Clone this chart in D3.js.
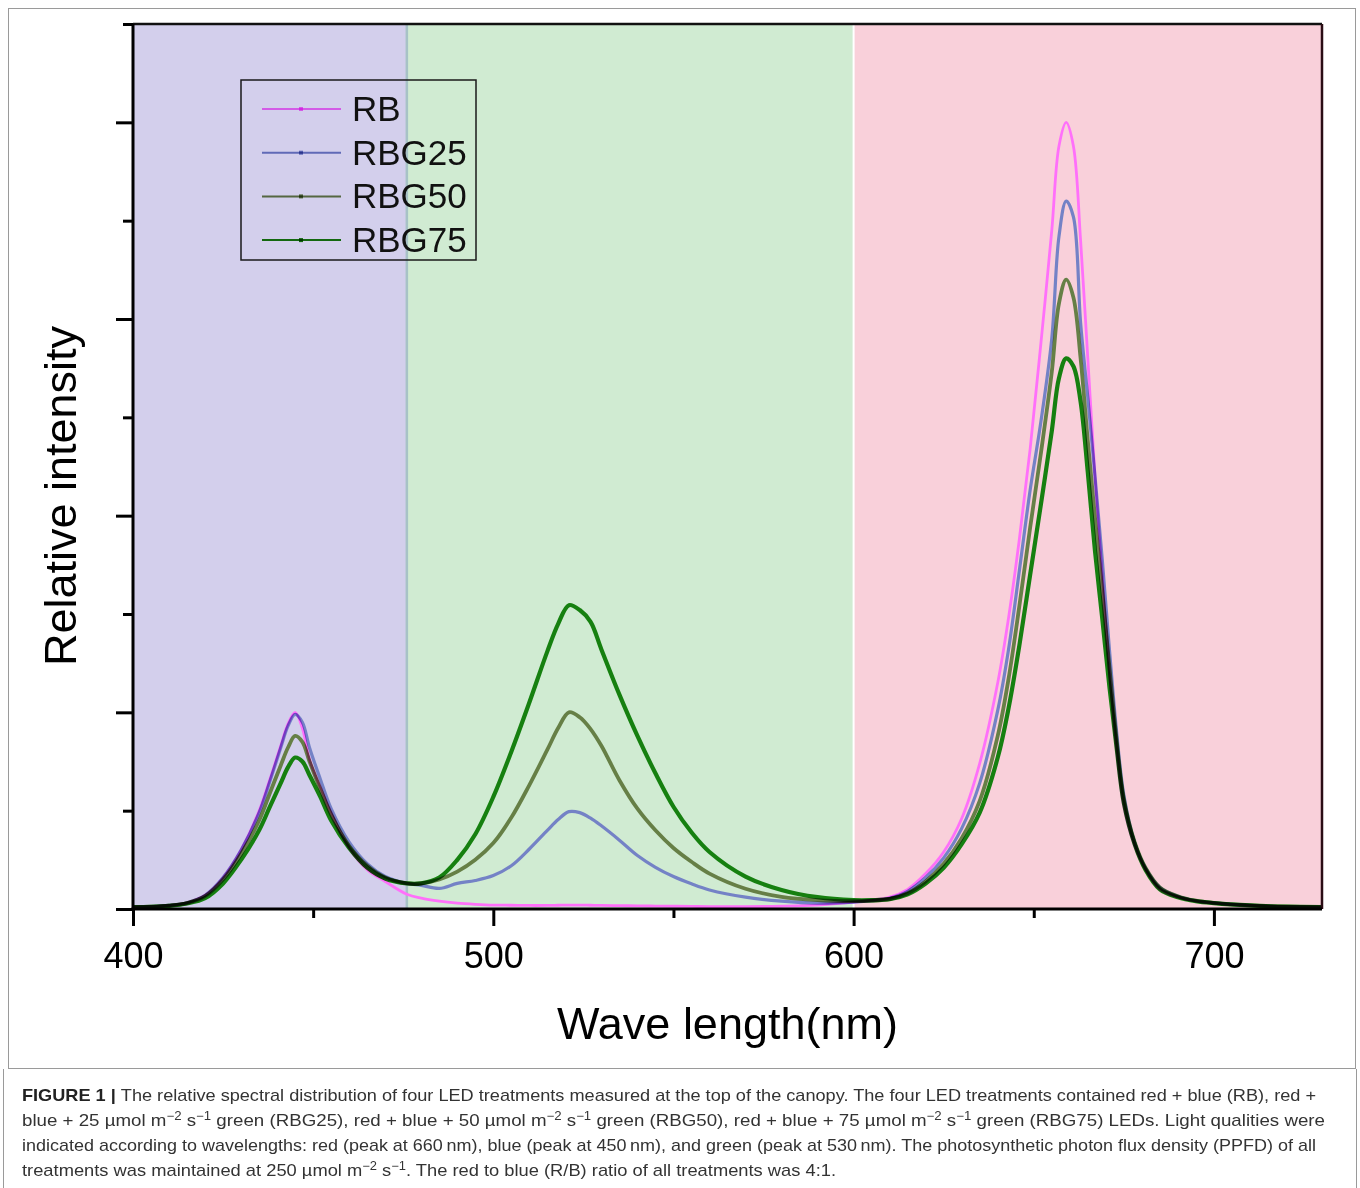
<!DOCTYPE html>
<html>
<head>
<meta charset="utf-8">
<script src="https://cdn.jsdelivr.net/npm/d3@7"></script>
<style>
  body { margin: 0; background: #fff; }
  svg { display: block; font-family: "Liberation Sans", Arial, sans-serif; }
  .series { fill: none; mix-blend-mode: multiply; stroke-linejoin: round; }
  .tick line { stroke: #000; stroke-width: 3; }
  .tick text { font-size: 36px; fill: #000; }
</style>
</head>
<body>
<svg id="chart"></svg>
<script>
// wavelengths (nm) shared by every series
const wavelengths = [
  400, 405, 410, 415, 420, 425, 430, 435, 438, 441, 443, 445, 447, 449, 452, 455, 460, 465, 470, 476,
  480, 485, 490, 495, 500, 505, 510, 515, 518, 521, 524, 527, 530, 535, 540, 545, 550, 555, 560, 570, 580, 590,
  600, 605, 610, 615, 620, 625, 630, 635, 640, 643, 646, 649, 652, 655, 657, 659, 661, 663, 665, 667, 669, 671,
  673, 675, 678, 681, 685, 690, 695, 700, 710, 720, 730
];

const rbValues = [
  0.010, 0.012, 0.018, 0.032, 0.070, 0.160, 0.300, 0.500, 0.660, 0.830, 0.940, 1.000, 0.920, 0.760, 0.620, 0.490, 0.310, 0.200, 0.140, 0.075,
  0.055, 0.040, 0.030, 0.024, 0.020, 0.019, 0.018, 0.018, 0.019, 0.020, 0.020, 0.019, 0.018, 0.017, 0.016, 0.015, 0.014, 0.013, 0.012, 0.012, 0.014, 0.020,
  0.035, 0.045, 0.060, 0.100, 0.180, 0.290, 0.460, 0.740, 1.150, 1.480, 1.880, 2.340, 2.880, 3.450, 3.880, 4.000, 3.880, 3.400, 2.800, 2.200, 1.700, 1.200,
  0.800, 0.520, 0.320, 0.200, 0.100, 0.060, 0.040, 0.030, 0.018, 0.012, 0.010
];

const rbg25Values = [
  0.010, 0.012, 0.018, 0.032, 0.070, 0.160, 0.300, 0.490, 0.650, 0.820, 0.930, 0.990, 0.950, 0.820, 0.660, 0.510, 0.340, 0.230, 0.165, 0.130,
  0.120, 0.105, 0.130, 0.145, 0.170, 0.220, 0.305, 0.400, 0.455, 0.495, 0.490, 0.462, 0.423, 0.350, 0.272, 0.212, 0.165, 0.128, 0.097, 0.060, 0.040, 0.030,
  0.035, 0.042, 0.055, 0.090, 0.160, 0.260, 0.410, 0.640, 1.010, 1.320, 1.720, 2.130, 2.480, 2.900, 3.420, 3.600, 3.520, 2.980, 2.600, 2.200, 1.780, 1.320,
  0.900, 0.580, 0.340, 0.210, 0.110, 0.065, 0.042, 0.031, 0.018, 0.012, 0.010
];

const rbg50Values = [
  0.010, 0.012, 0.017, 0.030, 0.065, 0.150, 0.280, 0.450, 0.590, 0.730, 0.820, 0.880, 0.850, 0.750, 0.610, 0.480, 0.320, 0.220, 0.160, 0.130,
  0.130, 0.150, 0.190, 0.250, 0.335, 0.465, 0.630, 0.810, 0.920, 1.000, 0.975, 0.915, 0.830, 0.655, 0.510, 0.400, 0.310, 0.240, 0.180, 0.103, 0.062, 0.045,
  0.040, 0.042, 0.050, 0.080, 0.140, 0.230, 0.360, 0.550, 0.880, 1.170, 1.540, 1.940, 2.320, 2.730, 3.080, 3.200, 3.110, 2.800, 2.380, 1.990, 1.620, 1.230,
  0.860, 0.560, 0.340, 0.210, 0.110, 0.065, 0.042, 0.031, 0.018, 0.012, 0.010
];

const rbg75Values = [
  0.010, 0.011, 0.016, 0.028, 0.055, 0.130, 0.250, 0.400, 0.520, 0.640, 0.720, 0.770, 0.750, 0.680, 0.570, 0.450, 0.310, 0.210, 0.155, 0.130,
  0.130, 0.160, 0.250, 0.380, 0.570, 0.800, 1.050, 1.310, 1.450, 1.545, 1.520, 1.460, 1.320, 1.090, 0.880, 0.690, 0.520, 0.390, 0.290, 0.165, 0.097, 0.060,
  0.045, 0.045, 0.050, 0.075, 0.130, 0.210, 0.330, 0.490, 0.770, 1.020, 1.340, 1.700, 2.060, 2.430, 2.700, 2.800, 2.760, 2.580, 2.220, 1.820, 1.480, 1.130,
  0.820, 0.540, 0.330, 0.200, 0.100, 0.060, 0.040, 0.030, 0.018, 0.012, 0.010
];

const seriesNames = ['RB', 'RBG25', 'RBG50', 'RBG75'];
const seriesColors = ['#ff70fa', '#7482c6', '#667f46', '#168010'];
const seriesWidths = [2.8, 3.2, 3.8, 4.2];

// light quality bands: blue, green, red
const bandEdges = [400, 476, 600, 730];
const bandColors = ['#d3cfec', '#d0ebd2', '#f9d0da'];

const xMajorTicks = [400, 500, 600, 700];
const xMinorTicks = [450, 550, 650];
const yMajorTicks = [0, 1, 2, 3, 4];
const yMinorTicks = [0.5, 1.5, 2.5, 3.5, 4.5];

const captionLines = [
  'The relative spectral distribution of four LED treatments measured at the top of the canopy. The four LED treatments contained red + blue (RB), red +',
  'blue + 25 \u00b5mol m^\u22122 s^\u22121 green (RBG25), red + blue + 50 \u00b5mol m^\u22122 s^\u22121 green (RBG50), red + blue + 75 \u00b5mol m^\u22122 s^\u22121 green (RBG75) LEDs. Light qualities were',
  'indicated according to wavelengths: red (peak at 660\u2009nm), blue (peak at 450\u2009nm), and green (peak at 530\u2009nm). The photosynthetic photon flux density (PPFD) of all',
  'treatments was maintained at 250 \u00b5mol m^\u22122 s^\u22121. The red to blue (R/B) ratio of all treatments was 4:1.'
];

class SpectrumChart {

  constructor(_config) {
    this.config = {
      parentElement: _config.parentElement,
      containerWidth: _config.containerWidth || 1360,
      containerHeight: _config.containerHeight || 1188,
      margin: _config.margin || {top: 24, right: 38, bottom: 279, left: 133}
    };
    this.initVis();
  }

  initVis() {
    let vis = this;

    vis.width = vis.config.containerWidth - vis.config.margin.left - vis.config.margin.right;
    vis.height = vis.config.containerHeight - vis.config.margin.top - vis.config.margin.bottom;

    vis.xScale = d3.scaleLinear()
        .domain([400, 730])
        .range([0, vis.width]);

    vis.yScale = d3.scaleLinear()
        .domain([0, 4.5])
        .range([vis.height, 0]);

    vis.svg = d3.select(vis.config.parentElement)
        .attr('width', vis.config.containerWidth)
        .attr('height', vis.config.containerHeight);

    // outer figure frame + caption box sides
    vis.svg.append('rect')
        .attr('x', 8.5).attr('y', 8.5)
        .attr('width', 1347).attr('height', 1060)
        .attr('fill', 'none')
        .attr('stroke', '#9a9a9a');
    vis.svg.append('path')
        .attr('d', 'M3.5,1069V1188M1356.5,1069V1188')
        .attr('stroke', '#9a9a9a')
        .attr('fill', 'none');

    vis.chart = vis.svg.append('g')
        .attr('transform', `translate(${vis.config.margin.left},${vis.config.margin.top})`);

    vis.chart.append('clipPath')
        .attr('id', 'plot-clip')
      .append('rect')
        .attr('width', vis.width)
        .attr('height', vis.height);

    vis.bandG = vis.chart.append('g');
    vis.lineG = vis.chart.append('g').attr('clip-path', 'url(#plot-clip)');
    vis.axisG = vis.chart.append('g');
    vis.legendG = vis.chart.append('g');
  }

  updateVis() {
    let vis = this;

    const values = [rbValues, rbg25Values, rbg50Values, rbg75Values];
    vis.series = seriesNames.map((name, i) => ({
      name: name,
      color: seriesColors[i],
      width: seriesWidths[i],
      points: wavelengths.map((w, j) => ({nm: w, v: values[i][j]}))
    }));

    vis.bands = bandColors.map((c, i) => ({x0: bandEdges[i], x1: bandEdges[i + 1], color: c}));

    vis.renderVis();
  }

  renderVis() {
    let vis = this;

    // coloured light bands
    vis.bandG.selectAll('.band')
        .data(vis.bands)
      .join('rect')
        .attr('class', 'band')
        .attr('x', d => vis.xScale(d.x0))
        .attr('width', d => vis.xScale(d.x1) - vis.xScale(d.x0))
        .attr('y', 0)
        .attr('height', vis.height)
        .attr('fill', d => d.color);

    vis.bandG.append('line')
        .attr('x1', vis.xScale(bandEdges[1])).attr('x2', vis.xScale(bandEdges[1]))
        .attr('y1', 0).attr('y2', vis.height)
        .attr('stroke', '#a7c2c6').attr('stroke-width', 2.5);
    vis.bandG.append('line')
        .attr('x1', vis.xScale(bandEdges[2])).attr('x2', vis.xScale(bandEdges[2]))
        .attr('y1', 0).attr('y2', vis.height)
        .attr('stroke', '#ffffff').attr('stroke-width', 2);

    // spectra
    const line = d3.line()
        .x(d => vis.xScale(d.nm))
        .y(d => vis.yScale(d.v))
        .curve(d3.curveCatmullRom.alpha(0.5));

    vis.lineG.selectAll('.series')
        .data(vis.series)
      .join('path')
        .attr('class', 'series')
        .attr('d', d => line(d.points))
        .attr('stroke', d => d.color)
        .attr('stroke-width', d => d.width);

    // axes: major / minor ticks, labels only on x major
    const xMajor = d3.axisBottom(vis.xScale).tickValues(xMajorTicks).tickSize(17).tickPadding(16);
    const xMinor = d3.axisBottom(vis.xScale).tickValues(xMinorTicks).tickSize(9).tickFormat('');
    const yMajor = d3.axisLeft(vis.yScale).tickValues(yMajorTicks).tickSize(17).tickFormat('');
    const yMinor = d3.axisLeft(vis.yScale).tickValues(yMinorTicks).tickSize(10).tickFormat('');

    [xMajor, xMinor].forEach(ax => {
      vis.axisG.append('g')
          .attr('transform', `translate(0,${vis.height})`)
          .call(ax)
          .call(g => g.select('.domain').remove());
    });
    [yMajor, yMinor].forEach(ax => {
      vis.axisG.append('g')
          .call(ax)
          .call(g => g.select('.domain').remove());
    });
    vis.axisG.selectAll('.tick text').attr('font-family', null).attr('font-size', null);

    // frame
    const x0 = vis.xScale(400), x1 = vis.xScale(730);
    const y0 = vis.yScale(0), y1 = vis.yScale(4.5);
    vis.axisG.append('line').attr('x1', x0).attr('x2', x1).attr('y1', y1).attr('y2', y1)
        .attr('stroke', '#111').attr('stroke-width', 2.5);
    vis.axisG.append('line').attr('x1', x1).attr('x2', x1).attr('y1', y1).attr('y2', y0)
        .attr('stroke', '#2a0c14').attr('stroke-width', 2.5);
    vis.axisG.append('line').attr('x1', x0).attr('x2', x0).attr('y1', y1).attr('y2', y0 + 1.5)
        .attr('stroke', '#000').attr('stroke-width', 3);
    vis.axisG.append('line').attr('x1', x0 - 1.5).attr('x2', x1).attr('y1', y0).attr('y2', y0)
        .attr('stroke', '#000').attr('stroke-width', 3);

    // axis titles
    vis.svg.append('text')
        .attr('x', vis.config.margin.left + vis.xScale(565))
        .attr('y', 1039)
        .attr('text-anchor', 'middle')
        .attr('font-size', 45)
        .attr('fill', '#000')
        .text('Wave length(nm)');

    vis.svg.append('text')
        .attr('transform', 'translate(76,496) rotate(-90)')
        .attr('text-anchor', 'middle')
        .attr('font-size', 45)
        .attr('fill', '#000')
        .text('Relative intensity');

    // legend
    vis.legendG.attr('transform', 'translate(108,56)');
    vis.legendG.append('rect')
        .attr('width', 235).attr('height', 180)
        .attr('fill', 'none')
        .attr('stroke', '#1a1a1a').attr('stroke-width', 1.5);

    const item = vis.legendG.selectAll('.legend-item')
        .data(vis.series)
      .join('g')
        .attr('class', 'legend-item')
        .attr('transform', (d, i) => `translate(0,${29 + i * 43.7})`);

    item.append('line')
        .attr('x1', 21).attr('x2', 100)
        .attr('stroke', d => d.color)
        .attr('stroke-width', 2)
        .style('mix-blend-mode', 'multiply');
    item.append('rect')
        .attr('x', 58).attr('y', -2).attr('width', 4).attr('height', 4)
        .attr('fill', d => d.color)
        .style('mix-blend-mode', 'multiply');
    item.append('text')
        .attr('x', 111).attr('y', 12)
        .attr('font-size', 35)
        .attr('fill', '#111')
        .text(d => d.name);

    vis.renderCaption();
  }

  renderCaption() {
    let vis = this;
    const widths = [1294, 1303, 1294, 814];

    captionLines.forEach((str, i) => {
      const t = vis.svg.append('text')
          .attr('x', 22)
          .attr('y', 1101 + i * 25)
          .attr('font-size', 17)
          .attr('fill', '#333')
          .attr('textLength', widths[i])
          .attr('lengthAdjust', 'spacingAndGlyphs');

      if (i === 0) {
        t.append('tspan').attr('font-weight', 'bold').attr('fill', '#222').text('FIGURE 1 | ');
      }

      let raised = false;
      str.split(/(\^[^\s.,]+)/).forEach(part => {
        if (!part) return;
        if (part[0] === '^') {
          t.append('tspan').attr('dy', -6).attr('font-size', 12).text(part.slice(1));
          raised = true;
        } else {
          const ts = t.append('tspan').text(part);
          if (raised) { ts.attr('dy', 6); raised = false; }
        }
      });
    });
  }
}

const chart = new SpectrumChart({parentElement: '#chart'});
chart.updateVis();
</script>
</body>
</html>
